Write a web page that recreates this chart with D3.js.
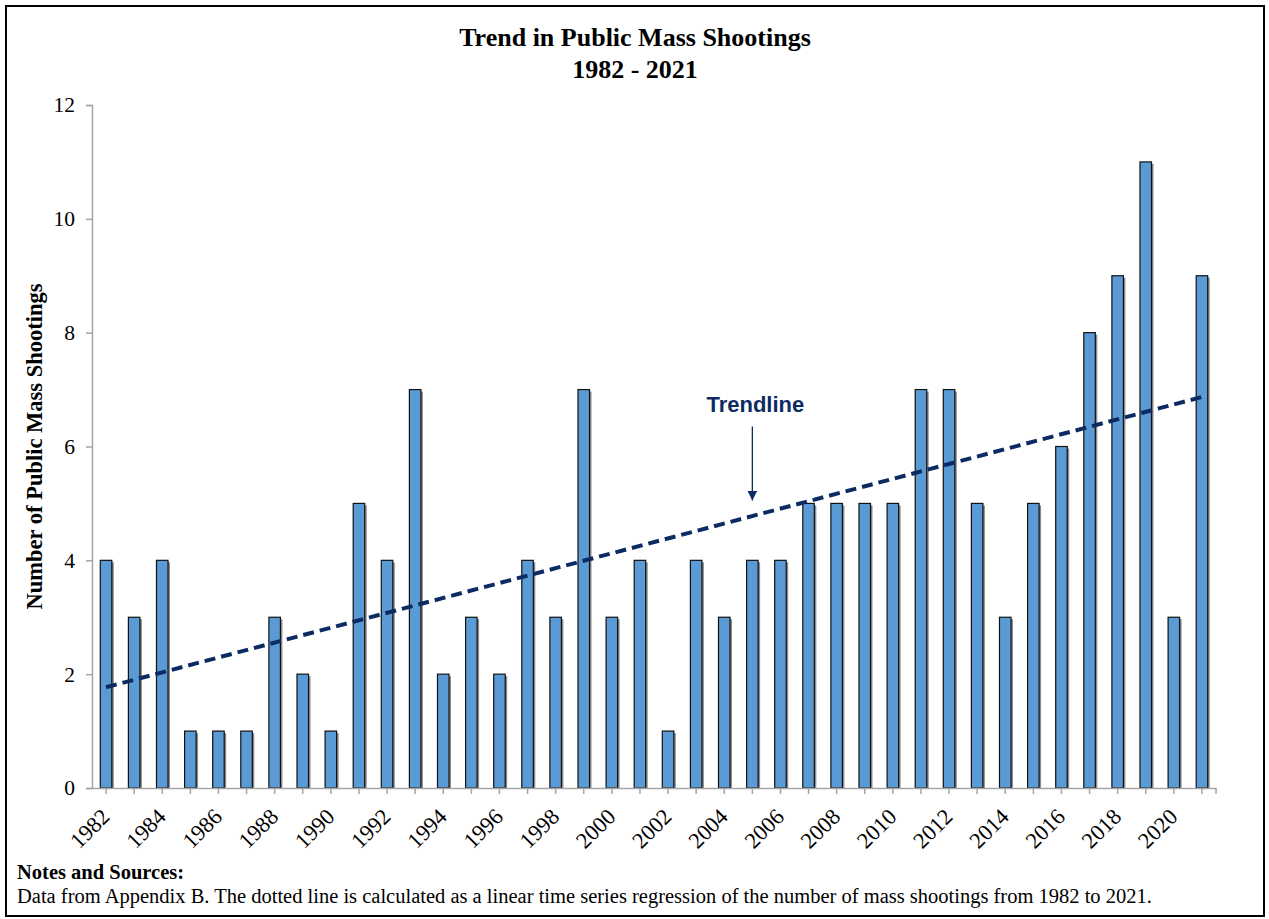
<!DOCTYPE html>
<html>
<head>
<meta charset="utf-8">
<script src="https://cdn.jsdelivr.net/npm/d3@7"></script>
<style>
body { margin:0; background:#fff; }
text { font-family: "Liberation Serif", "Times New Roman", serif; }
</style>
</head>
<body>
<svg id="graph"></svg>
<script>
// data
var years = [1982,1983,1984,1985,1986,1987,1988,1989,1990,1991,1992,1993,1994,1995,1996,1997,1998,1999,2000,2001,
             2002,2003,2004,2005,2006,2007,2008,2009,2010,2011,2012,2013,2014,2015,2016,2017,2018,2019,2020,2021]
var shootings = [4,3,4,1,1,1,3,2,1,5,4,7,2,3,2,4,3,7,3,4,
                 1,4,3,4,4,5,5,5,5,7,7,5,3,5,6,8,9,11,3,9]
var yTicks = [0,2,4,6,8,10,12]
// trendline ends (regression line as drawn)
var trendYears = [1982, 2021]
var trendValues = [1.77, 6.87]

var screen = {width:1269, height:919}
var margins = {left:92, right:53, top:105, bottom:131}
var graph = {
    width: screen.width - margins.left - margins.right,
    height: screen.height - margins.top - margins.bottom
}

var svg = d3.select("#graph")
    .attr("width", screen.width)
    .attr("height", screen.height)

// outer frame
svg.append("rect")
    .attr("x",6).attr("y",6)
    .attr("width",1258).attr("height",910)
    .attr("fill","none")
    .attr("stroke","black")
    .attr("stroke-width",2)

var xScale = d3.scaleBand()
    .domain(years)
    .range([0, graph.width])
    .paddingInner(0.59)
    .paddingOuter(0.295)

var yScale = d3.scaleLinear()
    .domain([0,12])
    .range([graph.height, 0])

var target = svg.append("g")
    .attr("transform","translate("+margins.left+","+margins.top+")")

// bar shadows
target.selectAll(".shadow")
    .data(shootings)
    .enter()
    .append("rect")
    .attr("x", function(d,i){ return xScale(years[i]) + 2 })
    .attr("y", function(d){ return yScale(d) + 2 })
    .attr("width", xScale.bandwidth())
    .attr("height", function(d){ return graph.height - yScale(d) - 2 })
    .attr("fill", "#8c8c8c")

target.selectAll(".bar")
    .data(shootings)
    .enter()
    .append("rect")
    .classed("bar", true)
    .attr("x", function(d,i){ return xScale(years[i]) })
    .attr("y", function(d){ return yScale(d) })
    .attr("width", xScale.bandwidth())
    .attr("height", function(d){ return graph.height - yScale(d) })
    .attr("fill", "#5b9bd5")
    .attr("stroke", "#111")
    .attr("stroke-width", 1.2)

// axes
var yAxis = d3.axisLeft(yScale).tickValues(yTicks).tickSize(6).tickPadding(11)
var yg = target.append("g").call(yAxis)
yg.select(".domain").attr("stroke","#a6a6a6").attr("stroke-width",1.5)
yg.selectAll(".tick line").attr("stroke","#a6a6a6").attr("stroke-width",1.5)
yg.selectAll(".tick text")
    .attr("font-size", 21.5)
    .attr("fill", "#000")
    .style("font-family", "'Liberation Serif', serif")

var xAxis = d3.axisBottom(xScale)
    .tickSize(6)
    .tickSizeOuter(0)
    .tickFormat(function(d){ return d % 2 === 0 ? d : "" })
var xg = target.append("g")
    .attr("transform","translate(0,"+graph.height+")")
    .call(xAxis)
xg.select(".domain").attr("stroke","#a6a6a6").attr("stroke-width",1.5)
xg.selectAll(".tick line").attr("stroke","#a6a6a6").attr("stroke-width",1.5)
// closing tick at the end of the axis
xg.append("line")
    .attr("x1", graph.width).attr("x2", graph.width)
    .attr("y1", 0).attr("y2", 6)
    .attr("stroke","#a6a6a6").attr("stroke-width",1.5)
xg.selectAll(".tick text")
    .attr("font-size", 22.5)
    .attr("fill", "#000")
    .style("font-family", "'Liberation Serif', serif")
    .attr("text-anchor", "end")
    .attr("y", 0)
    .attr("dy", 0)
    .attr("transform", "translate(5,30) rotate(-45)")

// trendline
var line = d3.line()
    .x(function(d){ return xScale(d[0]) + xScale.bandwidth()/2 })
    .y(function(d){ return yScale(d[1]) })
target.append("path")
    .datum(trendYears.map(function(y,i){ return [y, trendValues[i]] }))
    .attr("d", line)
    .attr("fill","none")
    .attr("stroke","#0c2b63")
    .attr("stroke-width",4)
    .attr("stroke-dasharray","11,6")

// annotation
svg.append("defs").append("marker")
    .attr("id","arrow")
    .attr("viewBox","0 0 10 10")
    .attr("refX",10).attr("refY",5)
    .attr("markerWidth",10).attr("markerHeight",10)
    .attr("markerUnits","userSpaceOnUse")
    .attr("orient","auto")
    .append("path")
    .attr("d","M0,0L10,5L0,10z")
    .attr("fill","#0c2b63")

var ax = xScale(2005) + xScale.bandwidth()/2
target.append("line")
    .attr("x1", ax).attr("x2", ax)
    .attr("y1", yScale(6.35)).attr("y2", yScale(5.05))
    .attr("stroke","#0c2b63")
    .attr("stroke-width",1.3)
    .attr("marker-end","url(#arrow)")
target.append("text")
    .text("Trendline")
    .attr("x", ax + 3)
    .attr("y", yScale(6.6))
    .attr("text-anchor","middle")
    .attr("font-size", 22)
    .attr("font-weight","bold")
    .attr("fill","#0c2b63")
    .style("font-family","'Liberation Sans', Arial, sans-serif")

// labels
var labels = svg.append("g")
labels.append("text")
    .text("Trend in Public Mass Shootings")
    .attr("x", 635).attr("y", 46)
    .attr("text-anchor","middle")
    .attr("font-size", 26)
    .attr("font-weight","bold")
labels.append("text")
    .text("1982 - 2021")
    .attr("x", 635).attr("y", 78)
    .attr("text-anchor","middle")
    .attr("font-size", 26)
    .attr("font-weight","bold")

labels.append("g")
    .attr("transform","translate(42,"+(margins.top+graph.height/2)+")")
    .append("text")
    .text("Number of Public Mass Shootings")
    .attr("text-anchor","middle")
    .attr("transform","rotate(-90)")
    .attr("font-size", 22.5)
    .attr("font-weight","bold")

labels.append("text")
    .text("Notes and Sources:")
    .attr("x", 17).attr("y", 879)
    .attr("font-size", 20.5)
    .attr("font-weight","bold")
labels.append("text")
    .text("Data from Appendix B. The dotted line is calculated as a linear time series regression of the number of mass shootings from 1982 to 2021.")
    .attr("x", 17).attr("y", 903)
    .attr("font-size", 20.5)
</script>
</body>
</html>
